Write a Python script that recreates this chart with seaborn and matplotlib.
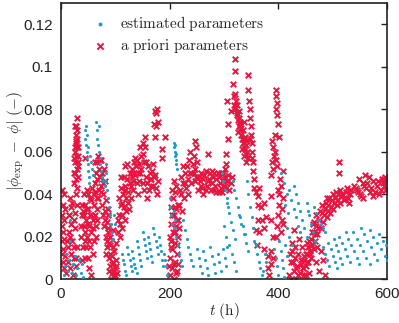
import numpy as np
import pandas as pd
import seaborn as sns
import matplotlib
matplotlib.use("Agg")
import matplotlib.pyplot as plt

# points: (t in h, |phi_exp - phi|)
estimated_pts = [
    # early, near zero
    (6, .002), (8, .006), (10, .012), (12, .004), (14, .009), (16, .018), (17, .028), (20, .003),
    (22, .007), (25, .011), (28, .002), (30, .005), (33, .009), (36, .003), (38, .007), (40, .001),
    # first blue column
    (44, .070), (45, .066), (46, .063), (47, .060), (48, .057), (49, .054), (50, .051), (51, .048),
    (52, .045), (46, .072), (48, .068), (50, .062), (53, .058), (55, .055), (57, .052), (59, .049),
    # second blue column
    (65, .074), (66, .070), (67, .066), (68, .063), (69, .060), (70, .072), (71, .057), (72, .054),
    (73, .051), (75, .048), (77, .046), (80, .044), (83, .050), (83, .046), (84, .042), (82, .054),
    (86, .038), (88, .034), (90, .030), (92, .026), (94, .022), (96, .019), (98, .030), (100, .026),
    # streaks 110-200
    (112, .012), (114, .009), (116, .007), (118, .004), (120, .002),
    (122, .015), (124, .012), (126, .009), (128, .006), (130, .004),
    (131, .013), (133, .010), (135, .007), (137, .005), (139, .003),
    (140, .018), (142, .015), (144, .012), (146, .009), (148, .006),
    (150, .022), (152, .019), (154, .016), (156, .013), (158, .010),
    (160, .020), (162, .017), (164, .014), (166, .011), (168, .008),
    (170, .024), (172, .021), (174, .018), (176, .015), (178, .012),
    (180, .020), (182, .016), (184, .013), (186, .009), (188, .006),
    (189, .012), (191, .009), (193, .006), (195, .002),
    # column near 210
    (207, .064), (208, .062), (209, .060), (210, .058), (211, .056), (212, .054), (213, .052),
    (210, .063), (212, .059),
    (200, .038), (201, .034), (203, .030), (205, .026), (207, .032), (209, .028), (210, .024),
    (212, .020), (225, .028), (228, .023), (231, .019), (234, .015), (237, .012), (240, .009),
    (243, .006), (218, .012), (220, .009), (222, .006), (215, .016),
    # streaks 250-310
    (250, .014), (253, .010), (256, .006), (259, .003), (262, .013), (265, .009), (268, .005),
    (271, .002), (275, .015), (278, .011), (281, .007), (284, .003), (288, .012), (291, .008),
    (294, .004), (298, .014), (301, .010), (304, .006),
    # streaks 295-370
    (296, .050), (299, .046), (302, .042), (305, .038), (308, .034),
    (305, .036), (309, .031), (313, .027), (317, .023), (321, .019),
    (316, .046), (318, .042), (322, .038), (326, .034), (330, .029), (334, .025), (338, .021),
    (328, .030), (332, .026), (336, .021), (340, .017), (344, .013),
    (343, .046), (345, .040), (348, .034), (351, .029), (354, .024), (356, .018),
    (358, .016), (361, .012), (364, .008), (367, .005), (370, .002),
    (310, .016), (314, .012), (318, .008), (322, .004), (300, .025), (303, .020), (306, .015),
    # 370-420 near zero
    (372, .004), (375, .012), (378, .008), (392, .014), (395, .010), (398, .006), (400, .002),
    (404, .013), (406, .009), (408, .005), (410, .001), (402, .018), (412, .016), (415, .011),
    # 400-490 cluster
    (405, .050), (410, .045), (415, .040), (412, .035), (418, .031), (420, .042), (424, .037),
    (428, .033), (432, .029), (436, .025), (440, .022), (428, .044), (432, .040), (436, .036),
    (440, .032), (444, .028), (448, .024), (452, .020), (456, .030), (460, .026), (464, .022),
    (468, .018), (420, .020), (425, .016), (415, .024), (452, .036), (454, .032),
    (466, .034), (470, .031), (474, .028), (478, .026), (482, .024), (486, .022),
    # parallel streaks 470-600
    (482, .015), (486, .012), (490, .009), (494, .006),
    (492, .017), (496, .014), (500, .011), (504, .008), (508, .005),
    (502, .019), (506, .016), (510, .013), (514, .010), (518, .007),
    (512, .020), (517, .017), (522, .014), (527, .011), (532, .008),
    (524, .022), (529, .019), (534, .016), (539, .013), (544, .010), (549, .007),
    (538, .022), (544, .019), (550, .016), (556, .013), (562, .010), (568, .007),
    (552, .024), (558, .021), (564, .018), (570, .015), (576, .012), (582, .009),
    (568, .023), (575, .020), (582, .017), (589, .014), (596, .011), (600, .009),
    (585, .021), (592, .018), (598, .016),
]

apriori_pts = [
    (1, .012), (2, .018), (2, .025), (3, .008), (3, .022), (4, .014), (5, .028), (5, .005),
    (6, .019), (7, .011), (1, .030), (4, .035), (6, .040), (2, .042), (8, .033),
    (10, .003), (12, .008), (13, .015), (14, .022), (15, .030), (16, .005), (18, .012), (19, .026),
    (20, .036), (21, .018), (22, .002), (24, .010), (25, .031), (26, .024), (27, .040), (28, .006),
    (29, .015), (30, .035), (11, .018), (14, .030), (17, .020), (19, .034), (23, .015), (23, .028),
    (27, .010), (17, .038),
    (24, .045), (25, .050), (26, .055), (26, .060), (27, .064), (27, .068), (28, .072), (29, .076),
    (29, .070), (30, .066), (30, .062), (31, .058), (31, .053), (32, .048), (28, .058), (29, .052),
    (27, .047), (30, .043), (25, .062), (24, .057), (23, .050), (26, .072), (28, .065), (31, .062),
    (32, .055),
    (36, .020), (38, .030), (40, .015), (42, .025), (44, .035), (45, .010), (46, .028), (48, .020),
    (50, .033), (50, .040), (52, .025), (53, .015), (54, .030), (55, .037), (56, .022), (57, .043),
    (58, .028), (60, .035), (60, .018), (62, .030), (63, .041), (64, .025), (66, .033), (68, .038),
    (47, .042), (42, .040), (38, .009), (52, .005), (55, .002), (41, .032), (49, .026), (58, .012),
    (44, .018), (44, .057), (37, .025), (39, .035), (43, .030), (45, .022), (47, .033), (51, .018),
    (53, .038), (56, .030), (59, .024), (61, .040), (65, .020), (67, .028), (46, .015), (50, .010),
    (62, .045), (64, .050), (66, .055), (68, .058), (70, .052), (72, .048), (74, .044), (76, .050),
    (78, .040), (80, .046), (70, .042), (66, .038), (74, .056), (82, .037), (63, .055), (67, .047),
    (71, .056), (73, .041), (77, .045), (79, .052),
    (75, .035), (77, .030), (79, .025), (80, .032), (82, .020), (84, .027), (85, .015), (87, .022),
    (88, .010), (90, .016), (91, .006), (93, .011), (94, .003), (96, .008), (97, .001), (99, .005),
    (100, .002), (102, .009), (98, .013), (89, .004), (92, .000), (95, .015), (86, .033), (83, .012),
    (96, .023), (104, .028), (102, .017), (81, .028), (84, .018), (86, .024), (88, .017), (91, .012),
    (93, .007), (95, .004), (98, .002), (101, .006), (103, .003), (90, .020), (87, .030),
    (104, .022), (106, .030), (108, .026), (110, .035), (112, .030), (114, .040), (116, .034),
    (118, .044), (120, .038), (122, .047), (124, .041), (126, .050), (128, .044), (130, .052),
    (132, .046), (134, .055), (136, .049), (138, .053), (140, .056), (112, .024), (118, .028),
    (110, .043), (125, .033), (115, .048), (121, .054), (107, .038), (109, .020), (111, .048),
    (113, .036), (117, .042), (119, .032), (123, .036), (127, .045), (129, .038), (131, .048),
    (133, .042), (135, .050), (137, .057), (139, .045), (141, .050), (143, .054), (117, .053),
    (142, .040), (145, .050), (147, .058), (150, .045), (152, .055), (155, .062), (157, .048),
    (160, .053), (162, .042), (165, .047), (168, .051), (170, .044), (173, .049), (176, .040),
    (150, .064), (158, .038), (144, .046), (148, .052), (153, .042), (156, .055), (159, .045),
    (163, .050), (166, .044), (169, .054), (171, .048), (174, .043), (178, .046), (146, .062),
    (151, .059),
    (173, .079), (175, .078), (177, .080), (172, .073), (175, .072), (178, .074), (173, .067),
    (155, .067), (192, .067), (186, .061), (186, .057), (164, .047),
    (200, .002), (201, .010), (202, .018), (203, .026), (204, .005), (205, .014), (206, .022),
    (207, .030), (208, .000), (209, .008), (210, .017), (211, .025), (212, .033), (213, .012),
    (214, .004), (215, .020), (203, .034), (206, .038), (209, .041), (212, .044), (199, .006),
    (201, .020), (203, .015), (205, .030), (207, .007), (209, .022), (211, .003), (213, .028),
    (215, .035), (217, .024), (204, .042), (208, .046), (214, .016), (216, .007), (210, .034),
    (216, .028), (218, .035), (220, .040), (222, .032), (224, .045), (226, .038), (228, .050),
    (230, .043), (232, .053), (234, .047), (236, .056), (240, .050), (244, .058), (248, .062),
    (246, .046), (247, .052), (247, .065), (250, .055), (219, .042), (221, .048), (225, .053),
    (229, .045), (233, .040), (237, .050), (239, .045), (242, .054), (245, .050), (238, .060),
    (249, .048),
    (252, .042), (256, .046), (260, .043), (264, .049), (268, .044), (270, .059), (272, .047),
    (276, .042), (280, .048), (284, .044), (288, .050), (292, .045), (296, .041), (300, .047),
    (304, .043), (308, .049), (312, .045), (262, .040), (278, .051), (290, .041), (302, .052),
    (258, .050), (286, .047), (298, .050), (254, .048), (258, .044), (262, .047), (266, .042),
    (270, .046), (274, .050), (278, .045), (282, .042), (286, .041), (290, .048), (294, .043),
    (298, .046), (302, .044), (306, .046), (310, .042), (314, .048), (266, .051), (282, .050),
    (294, .050),
    (305, .084), (312, .079), (308, .073), (307, .066), (304, .059), (304, .054), (302, .048),
    (316, .092), (318, .086), (321, .1035), (321, .098), (320, .080), (323, .077), (325, .075),
    (327, .072), (329, .070), (331, .068), (333, .066), (335, .064), (337, .062), (339, .061),
    (341, .059), (326, .069), (330, .074), (334, .070), (338, .067), (322, .084), (324, .082),
    (328, .079), (319, .082), (321, .087), (324, .078), (327, .076), (329, .073), (332, .071),
    (336, .066), (340, .063), (343, .060), (333, .061), (337, .058), (341, .055), (345, .057),
    (342, .065), (336, .074),
    (345, .096), (344, .089), (346, .084), (347, .080), (348, .076), (349, .072), (350, .068),
    (351, .064), (352, .060), (353, .055), (354, .051), (356, .047), (352, .057), (348, .066),
    (355, .043),
    (395, .089), (396, .086), (397, .083), (396, .080), (398, .077), (399, .073), (402, .067),
    (388, .065), (390, .062), (392, .058), (389, .055), (391, .052), (394, .060), (396, .056),
    (398, .053), (393, .068), (387, .049), (408, .051),
    (358, .041), (362, .039), (364, .043), (386, .039), (362, .035), (368, .034), (373, .036),
    (362, .028), (370, .028), (378, .029), (386, .028), (358, .023), (365, .022), (373, .024),
    (360, .016), (374, .014), (380, .011), (386, .013), (391, .010), (380, .005), (383, .002),
    (386, .007), (391, .020),
    (396, .020), (398, .025), (400, .030), (401, .035), (402, .040), (404, .044), (405, .022),
    (406, .028), (407, .033), (408, .038), (403, .047), (399, .042), (409, .026),
    (420, .002), (423, .008), (425, .013), (428, .004), (430, .010), (433, .000), (435, .006),
    (437, .012), (440, .003), (442, .009), (444, .015), (446, .005), (448, .011), (450, .002),
    (452, .017), (455, .008), (458, .013), (428, .023), (426, .017), (438, .019), (422, .012),
    (427, .008), (432, .005), (436, .002), (441, .007), (447, .002), (451, .006), (456, .003),
    (424, .000), (431, .015),
    (445, .005), (448, .009), (450, .012), (453, .008), (455, .015), (458, .012), (460, .019),
    (462, .016), (465, .022), (467, .018), (470, .025), (472, .021), (475, .028), (478, .024),
    (480, .031), (483, .027), (486, .033), (489, .029), (492, .035), (495, .031), (498, .037),
    (501, .033), (504, .038), (507, .035), (510, .040), (513, .036), (516, .039), (520, .037),
    (524, .041), (528, .038), (532, .040), (500, .040), (490, .038), (470, .030), (463, .026),
    (512, .050), (512, .055), (470, .008), (475, .004), (478, .013), (482, .009), (485, .002),
    (472, .015), (452, .012), (457, .018), (461, .022), (466, .027), (468, .021), (473, .024),
    (476, .032), (481, .035), (484, .030), (487, .036), (491, .032), (494, .038), (497, .034),
    (503, .036), (506, .041), (509, .037), (514, .042), (518, .040), (522, .038), (526, .043),
    (530, .036), (534, .042), (460, .010), (465, .014),
    (540, .044), (545, .042), (550, .040), (555, .038), (548, .047), (555, .045), (562, .043),
    (568, .041), (575, .039), (560, .049), (567, .048), (575, .046), (582, .044), (588, .042),
    (590, .047), (595, .047), (600, .046), (598, .042), (594, .044), (543, .043), (547, .041),
    (552, .039), (557, .044), (564, .045), (571, .043), (578, .041), (584, .046), (586, .040),
    (592, .045), (597, .048), (600, .043),
]

blue = "#1f9ccb"
red = "#e5163f"

est = pd.DataFrame(estimated_pts, columns=["t", "err"])
apr = pd.DataFrame(apriori_pts, columns=["t", "err"])

sns.set_style("white")
plt.rcParams["mathtext.fontset"] = "cm"
plt.rcParams["font.family"] = ["Liberation Sans", "DejaVu Sans"]

fig = plt.figure(figsize=(3.99, 3.23), dpi=100)
ax = fig.add_axes([0.153, 0.136, 0.817, 0.855])

sns.scatterplot(data=est, x="t", y="err", ax=ax, color=blue, s=5, linewidth=0,
                label=r"$\mathrm{estimated\ parameters}$", zorder=3)
sns.scatterplot(data=apr, x="t", y="err", ax=ax, color=red, marker="x", s=16,
                linewidth=1.4, label=r"$\mathrm{a\ priori\ parameters}$", zorder=2)

ax.set_xlim(0, 600)
ax.set_ylim(0, 0.13)
ax.set_xticks([0, 200, 400, 600])
ax.set_yticks([0, 0.02, 0.04, 0.06, 0.08, 0.1, 0.12])
ax.set_yticklabels(["0", "0.02", "0.04", "0.06", "0.08", "0.1", "0.12"])
ax.tick_params(direction="in", top=True, right=True, length=4, width=1,
               labelsize=11, colors="#222222", pad=6)
for sp in ax.spines.values():
    sp.set_color("#222222")
    sp.set_linewidth(1.2)

ax.set_xlabel(r"$t\ \mathrm{(h)}$", fontsize=11, labelpad=0)
ax.set_ylabel(r"$\left|\phi_{\mathrm{exp}}\ -\ \phi\right|\ \mathrm{(-)}$", fontsize=11)
ax.yaxis.set_label_coords(-0.108, 0.5)

leg = ax.legend(loc="upper left", frameon=False, fontsize=11, handletextpad=0.3,
                bbox_to_anchor=(0.04, 1.0), borderaxespad=0.3, labelspacing=0.3)
leg.legend_handles[0].set_sizes([8])
leg.legend_handles[1].set_sizes([20])

fig.savefig("out.png", dpi=100)
